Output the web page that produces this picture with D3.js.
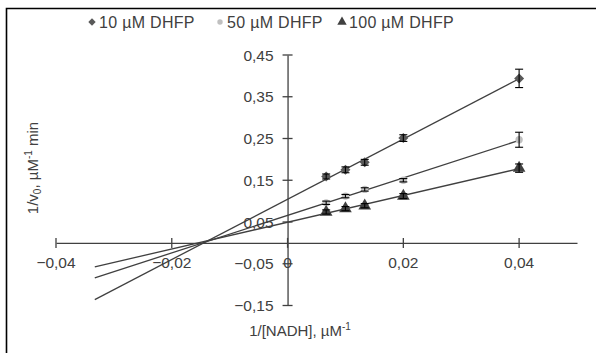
<!DOCTYPE html>
<html><head><meta charset="utf-8">
<script src="https://cdn.jsdelivr.net/npm/d3@7"></script>
<style>body{margin:0;background:#fff}svg{display:block;font-family:"Liberation Sans",Arial,sans-serif}</style>
</head><body><svg id="c" width="596" height="353"></svg>
<script>
const xVals = [0.00667, 0.01, 0.01333, 0.02, 0.04];
const dhfp10 = [0.159, 0.175, 0.193, 0.251, 0.394];
const dhfp50 = [0.096, 0.112, 0.128, 0.150, 0.247];
const dhfp100 = [0.074, 0.082, 0.089, 0.112, 0.179];
const err10 = [0.006, 0.007, 0.007, 0.008, 0.022];
const err50 = [0.004, 0.004, 0.004, 0.004, 0.018];
const err100 = [0.005, 0.005, 0.005, 0.006, 0.010];
const seriesNames = ["10 µM DHFP", "50 µM DHFP", "100 µM DHFP"];
const xTicks = [-0.04, -0.02, 0, 0.02, 0.04];
const yTicks = [-0.15, -0.05, 0.05, 0.15, 0.25, 0.35, 0.45];
const backcastStart = -0.0333;

const svg = d3.select("#c");
const x = d3.scaleLinear().domain([-0.04, 0.05]).range([56, 577]);
const y = d3.scaleLinear().domain([-0.15, 0.45]).range([305.5, 55]);
const fmt = v => (v === 0 ? "0" : d3.format(".2f")(v).replace(".", ","));
const textCol = "#404040";
const fs = 15.5;

// border
svg.append("path").attr("d", "M6.5,353 V8.5 H596").attr("fill", "none").attr("stroke", "#000").attr("stroke-width", 1.6);

// axes
const xAxis = d3.axisBottom(x).tickValues(xTicks).tickSize(0).tickFormat("");
const gx = svg.append("g").attr("transform", `translate(0,${y(0)})`).call(xAxis);
gx.select(".domain").attr("stroke", "#404040").attr("stroke-width", 1.3);
const yAxis = d3.axisLeft(y).tickValues(yTicks).tickSize(0).tickFormat("");
const gy = svg.append("g").attr("transform", `translate(${x(0)},0)`).call(yAxis);
gy.select(".domain").attr("stroke", "#404040").attr("stroke-width", 1.3);
// cross ticks
svg.append("g").selectAll("line").data(xTicks).join("line")
  .attr("x1", d => x(d)).attr("x2", d => x(d)).attr("y1", y(0) - 5).attr("y2", y(0) + 5)
  .attr("stroke", "#404040").attr("stroke-width", 1.3);
svg.append("g").selectAll("line").data(yTicks).join("line")
  .attr("y1", d => y(d)).attr("y2", d => y(d)).attr("x1", x(0) - 5).attr("x2", x(0) + 5)
  .attr("stroke", "#404040").attr("stroke-width", 1.3);
// tick labels
svg.append("g").selectAll("text").data(xTicks).join("text")
  .attr("x", d => x(d)).attr("y", y(0) + 25).attr("text-anchor", "middle")
  .attr("font-size", fs).attr("fill", textCol).text(fmt);
svg.append("g").selectAll("text").data(yTicks).join("text")
  .attr("x", x(0) - 14).attr("y", d => y(d) + 5.5).attr("text-anchor", "end")
  .attr("font-size", fs).attr("fill", textCol).text(fmt);

// trendlines
const allSeries = [
  {vals: dhfp10, err: err10, shape: d3.symbolSquare, rot: 45, size: 50, color: "#595959"},
  {vals: dhfp50, err: err50, shape: d3.symbolCircle, rot: 0, size: 42, color: "#c0c0c0"},
  {vals: dhfp100, err: err100, shape: d3.symbolTriangle, rot: 0, size: 70, color: "#404040"}
];
function fit(xs, ys) {
  const mx = d3.mean(xs), my = d3.mean(ys);
  let sxy = 0, sxx = 0;
  xs.forEach((v, i) => { sxy += (v - mx) * (ys[i] - my); sxx += (v - mx) ** 2; });
  const b = sxy / sxx; return {b, a: my - b * mx};
}
allSeries.forEach(s => {
  const f = fit(xVals, s.vals);
  const x0 = backcastStart, x1 = d3.max(xVals);
  svg.append("line").attr("x1", x(x0)).attr("y1", y(f.a + f.b * x0))
    .attr("x2", x(x1)).attr("y2", y(f.a + f.b * x1))
    .attr("stroke", "#404040").attr("stroke-width", 1.3);
});
// markers + error bars
allSeries.forEach(s => {
  const g = svg.append("g");
  g.selectAll("path.m").data(s.vals).join("path").attr("class", "m")
    .attr("d", d3.symbol().type(s.shape).size(s.size))
    .attr("transform", (d, i) => `translate(${x(xVals[i])},${y(d)}) rotate(${s.rot})`)
    .attr("fill", s.color);
  const eb = g.selectAll("g.e").data(s.vals).join("g").attr("class", "e");
  eb.append("line").attr("x1", (d, i) => x(xVals[i])).attr("x2", (d, i) => x(xVals[i]))
    .attr("y1", (d, i) => y(d + s.err[i])).attr("y2", (d, i) => y(d - s.err[i]));
  eb.append("line").attr("x1", (d, i) => x(xVals[i]) - 4).attr("x2", (d, i) => x(xVals[i]) + 4)
    .attr("y1", (d, i) => y(d + s.err[i])).attr("y2", (d, i) => y(d + s.err[i]));
  eb.append("line").attr("x1", (d, i) => x(xVals[i]) - 4).attr("x2", (d, i) => x(xVals[i]) + 4)
    .attr("y1", (d, i) => y(d - s.err[i])).attr("y2", (d, i) => y(d - s.err[i]));
  eb.selectAll("line").attr("stroke", "#000").attr("stroke-width", 1.1);
});

// legend
const legX = [92, 220, 342];
const lg = svg.append("g");
allSeries.forEach((s, i) => {
  lg.append("path").attr("d", d3.symbol().type(s.shape).size(s.size * 0.55))
    .attr("transform", `translate(${legX[i]},${22}) rotate(${s.rot})`).attr("fill", s.color);
  lg.append("text").attr("x", legX[i] + 7).attr("y", 28).attr("font-size", 16)
    .attr("letter-spacing", 0.3).attr("fill", textCol).text(seriesNames[i]);
});

// axis titles
const xt = svg.append("text").attr("x", 300).attr("y", 336).attr("text-anchor", "middle")
  .attr("font-size", 15).attr("fill", textCol);
xt.append("tspan").text("1/[NADH], µM");
xt.append("tspan").attr("font-size", 10).attr("dy", -6).text("-1");
const yt = svg.append("text").attr("transform", "translate(38,168) rotate(-90)")
  .attr("text-anchor", "middle").attr("font-size", 15).attr("fill", textCol);
yt.append("tspan").text("1/v");
yt.append("tspan").attr("font-size", 10).attr("dy", 3).text("0");
yt.append("tspan").attr("dy", -3).text(", µM");
yt.append("tspan").attr("font-size", 10).attr("dy", -6).text("-1");
yt.append("tspan").attr("dy", 6).text(" min");
</script></body></html>
